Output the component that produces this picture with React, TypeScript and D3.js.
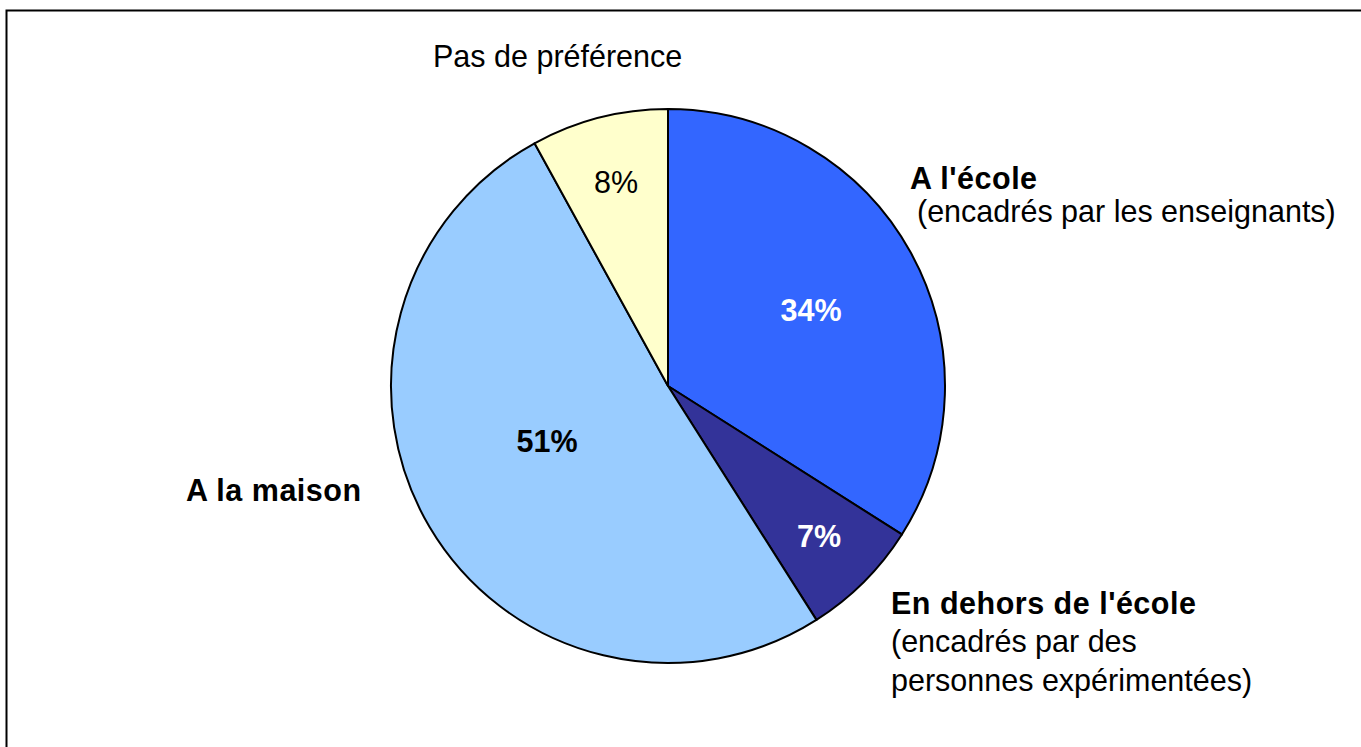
import { useRef, useEffect } from 'react';
import * as d3 from 'd3';

// data
const categories = ["A l'école", "En dehors de l'école", 'A la maison', 'Pas de préférence'];
const values = [34, 7, 51, 8];
const colors = ['#3366FF', '#333399', '#99CCFF', '#FFFFCC'];
const valueColors = ['#fff', '#fff', '#000', '#000'];
const valueBold = [true, true, true, false];

// label layout (text only)
const valuePos = [[811, 321], [819, 547], [547, 452], [616, 193]];
const catLines = [
  [{ t: "A l'école", x: 910, y: 189, b: true }, { t: '(encadrés par les enseignants)', x: 917, y: 222, b: false }],
  [
    { t: "En dehors de l'école", x: 891, y: 614, b: true },
    { t: '(encadrés par des', x: 891, y: 652, b: false },
    { t: 'personnes expérimentées)', x: 891, y: 691, b: false },
  ],
  [{ t: 'A la maison', x: 186, y: 501, b: true }],
  [{ t: 'Pas de préférence', x: 433, y: 67, b: false }],
];

const W = 1361;
const H = 747;

const App = () => {
  const svgRef = useRef<SVGSVGElement>(null);

  useEffect(() => {
    const svg = d3.select(svgRef.current);
    svg.selectAll('*').remove();

    const cx = 668, cy = 386, r = 277;

    // outer frame, runs off the right and bottom edges
    svg.append('rect')
      .attr('x', 6.5).attr('y', 10.5)
      .attr('width', W + 20).attr('height', H + 20)
      .attr('fill', '#fff')
      .attr('stroke', '#000')
      .attr('stroke-width', 2);

    const pie = d3.pie<number>().sort(null).value(d => d);
    const arcs = pie(values);
    const arc = d3.arc<d3.PieArcDatum<number>>().innerRadius(0).outerRadius(r);

    const g = svg.append('g').attr('transform', `translate(${cx},${cy})`);
    g.selectAll('path')
      .data(arcs)
      .join('path')
      .attr('d', arc)
      .attr('fill', (d, i) => colors[i])
      .attr('stroke', '#000')
      .attr('stroke-width', 2)
      .attr('stroke-linejoin', 'round');

    const font = 'Liberation Sans, Arial, sans-serif';

    svg.append('g').selectAll('text')
      .data(arcs)
      .join('text')
      .attr('x', (d, i) => valuePos[i][0])
      .attr('y', (d, i) => valuePos[i][1])
      .attr('text-anchor', 'middle')
      .attr('font-family', font)
      .attr('font-size', 30.5)
      .attr('font-weight', (d, i) => (valueBold[i] ? 'bold' : 'normal'))
      .attr('fill', (d, i) => valueColors[i])
      .text(d => `${d.data}%`);

    const lg = svg.append('g');
    categories.forEach((c, i) => {
      catLines[i].forEach(l => {
        lg.append('text')
          .attr('x', l.x)
          .attr('y', l.y)
          .attr('font-family', font)
          .attr('font-size', 30.5)
          .attr('font-weight', l.b ? 'bold' : 'normal')
          .attr('letter-spacing', l.b ? 0.5 : 0)
          .attr('fill', '#000')
          .text(l.t);
      });
    });
  }, []);

  return (
    <svg
      ref={svgRef}
      width={W}
      height={H}
      style={{ position: 'absolute', left: 0, top: 0, background: '#fff' }}
    />
  );
};

export default App;
